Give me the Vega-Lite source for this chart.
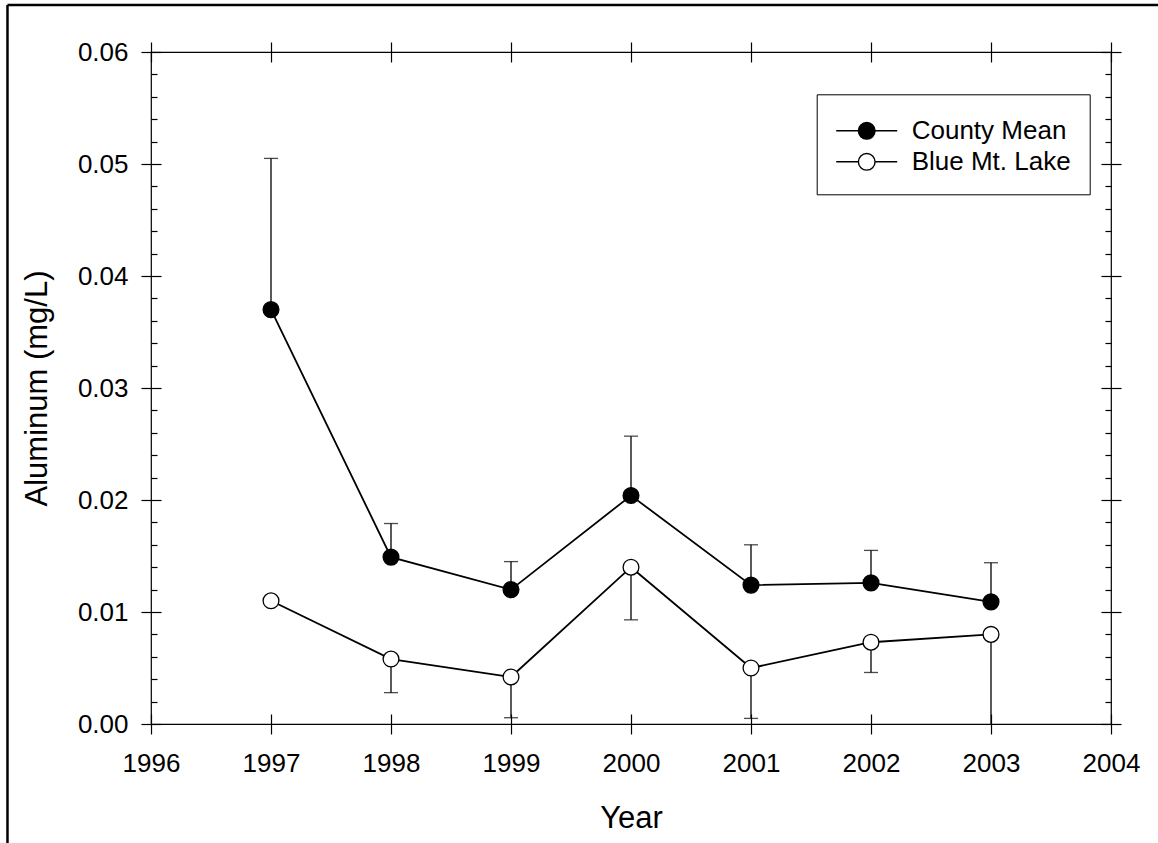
{
  "$schema": "https://vega.github.io/schema/vega-lite/v6.json",
  "width": 960,
  "height": 672,
  "autosize": {"type": "none"},
  "padding": {"left": 151, "top": 52, "right": 47, "bottom": 119},
  "background": "white",
  "config": {
    "font": "Liberation Sans",
    "view": {"stroke": "black", "strokeWidth": 1.2},
    "axis": {
      "domain": false,
      "grid": false,
      "tickColor": "black",
      "tickWidth": 1.2,
      "labelColor": "black",
      "labelFont": "Liberation Sans",
      "labelFontSize": 26,
      "labelFlush": false,
      "labelOverlap": false,
      "titleFont": "Liberation Sans",
      "titleFontSize": 31,
      "titleFontWeight": "normal",
      "titleColor": "black"
    }
  },
  "data": {
    "values": [
      {"year": 1997, "series": "County Mean", "value": 0.0370, "err": 0.0505},
      {"year": 1998, "series": "County Mean", "value": 0.0149, "err": 0.0179},
      {"year": 1999, "series": "County Mean", "value": 0.0120, "err": 0.0145},
      {"year": 2000, "series": "County Mean", "value": 0.0204, "err": 0.0257},
      {"year": 2001, "series": "County Mean", "value": 0.0124, "err": 0.0160},
      {"year": 2002, "series": "County Mean", "value": 0.0126, "err": 0.0155},
      {"year": 2003, "series": "County Mean", "value": 0.0109, "err": 0.0144},
      {"year": 1997, "series": "Blue Mt. Lake", "value": 0.0110, "err": null},
      {"year": 1998, "series": "Blue Mt. Lake", "value": 0.0058, "err": 0.0028},
      {"year": 1999, "series": "Blue Mt. Lake", "value": 0.0042, "err": 0.00056},
      {"year": 2000, "series": "Blue Mt. Lake", "value": 0.0140, "err": 0.0093},
      {"year": 2001, "series": "Blue Mt. Lake", "value": 0.0050, "err": 0.0005},
      {"year": 2002, "series": "Blue Mt. Lake", "value": 0.0073, "err": 0.0046},
      {"year": 2003, "series": "Blue Mt. Lake", "value": 0.0080, "err": 0.0}
    ]
  },
  "layer": [
    {
      "data": {"values": [{}]},
      "mark": {"type": "rule", "color": "black", "strokeWidth": 2.5, "clip": false},
      "encoding": {
        "x": {"datum": 1994.804, "type": "quantitative", "scale": {"domain": [1996, 2004], "nice": false, "zero": false}, "axis": null},
        "y": {"datum": -0.011, "type": "quantitative", "scale": {"domain": [0, 0.06], "nice": false}, "axis": null},
        "y2": {"datum": 0.0642}
      }
    },
    {
      "data": {"values": [{}]},
      "mark": {"type": "rule", "color": "black", "strokeWidth": 2.5, "clip": false},
      "encoding": {
        "x": {"datum": 1994.804, "type": "quantitative", "scale": {"domain": [1996, 2004], "nice": false, "zero": false}, "axis": null},
        "x2": {"datum": 2004.5},
        "y": {"datum": 0.0642, "type": "quantitative", "scale": {"domain": [0, 0.06], "nice": false}, "axis": null}
      }
    },
    {
      "transform": [{"filter": "datum.err != null"}],
      "mark": {"type": "rule", "color": "black", "strokeWidth": 1.3},
      "encoding": {
        "x": {
          "field": "year", "type": "quantitative",
          "scale": {"domain": [1996, 2004], "nice": false, "zero": false},
          "axis": {"orient": "bottom", "values": [1996, 1997, 1998, 1999, 2000, 2001, 2002, 2003, 2004], "format": "d", "tickSize": 20, "offset": -10, "labelPadding": 16, "title": "Year", "titlePadding": 27}
        },
        "y": {
          "field": "value", "type": "quantitative",
          "scale": {"domain": [0, 0.06], "nice": false},
          "axis": {"orient": "left", "values": [0, 0.01, 0.02, 0.03, 0.04, 0.05, 0.06], "format": ".2f", "tickSize": 20, "offset": -10, "labelPadding": 13, "title": "Aluminum (mg/L)", "titlePadding": 24}
        },
        "y2": {"field": "err"}
      }
    },
    {
      "transform": [{"filter": "datum.err != null && datum.err > 0"}],
      "mark": {"type": "tick", "orient": "horizontal", "color": "black", "size": 14, "thickness": 1.3},
      "encoding": {
        "x": {
          "field": "year", "type": "quantitative",
          "scale": {"domain": [1996, 2004], "nice": false, "zero": false},
          "axis": {"orient": "top", "values": [1996, 1997, 1998, 1999, 2000, 2001, 2002, 2003, 2004], "tickSize": 20, "offset": -10, "labels": false, "title": null}
        },
        "y": {
          "field": "err", "type": "quantitative",
          "scale": {"domain": [0, 0.06], "nice": false},
          "axis": {"orient": "left", "values": [0.002, 0.004, 0.006, 0.008, 0.012, 0.014, 0.016, 0.018, 0.022, 0.024, 0.026, 0.028, 0.032, 0.034, 0.036, 0.038, 0.042, 0.044, 0.046, 0.048, 0.052, 0.054, 0.056, 0.058], "tickSize": 6, "offset": -6, "labels": false, "title": null}
        }
      }
    },
    {
      "mark": {"type": "line", "color": "black", "strokeWidth": 1.8},
      "encoding": {
        "x": {"field": "year", "type": "quantitative", "scale": {"domain": [1996, 2004], "nice": false, "zero": false}, "axis": null},
        "y": {
          "field": "value", "type": "quantitative",
          "scale": {"domain": [0, 0.06], "nice": false},
          "axis": {"orient": "right", "values": [0, 0.01, 0.02, 0.03, 0.04, 0.05, 0.06], "tickSize": 20, "offset": -10, "labels": false, "title": null}
        },
        "detail": {"field": "series", "type": "nominal"}
      }
    },
    {
      "mark": {"type": "point", "shape": "circle", "filled": true, "size": 250, "stroke": "black", "strokeWidth": 1.3, "opacity": 1},
      "encoding": {
        "x": {"field": "year", "type": "quantitative", "scale": {"domain": [1996, 2004], "nice": false, "zero": false}, "axis": null},
        "y": {
          "field": "value", "type": "quantitative",
          "scale": {"domain": [0, 0.06], "nice": false},
          "axis": {"orient": "right", "values": [0.002, 0.004, 0.006, 0.008, 0.012, 0.014, 0.016, 0.018, 0.022, 0.024, 0.026, 0.028, 0.032, 0.034, 0.036, 0.038, 0.042, 0.044, 0.046, 0.048, 0.052, 0.054, 0.056, 0.058], "tickSize": 6, "offset": -6, "labels": false, "title": null}
        },
        "fill": {
          "field": "series", "type": "nominal",
          "scale": {"domain": ["County Mean", "Blue Mt. Lake"], "range": ["black", "white"]},
          "legend": {
            "title": null,
            "orient": "none",
            "legendX": 665.7,
            "legendY": 42.3,
            "symbolType": "M-1.016,0L0.31,0M1.31,0L2.636,0M1.31,0A0.5,0.5,0,1,1,0.31,0A0.5,0.5,0,1,1,1.31,0Z",
            "symbolSize": 1115,
            "symbolStrokeColor": "black",
            "symbolStrokeWidth": 1.4,
            "symbolOpacity": 1,
            "labelFont": "Liberation Sans",
            "labelFontSize": 26,
            "labelColor": "black",
            "labelOffset": 41,
            "labelExpr": "datum.label + '\u00a0'",
            "padding": 19,
            "rowPadding": 0,
            "strokeColor": "black",
            "fillColor": "white"
          }
        }
      }
    }
  ],
  "resolve": {"axis": {"x": "independent", "y": "independent"}}
}
